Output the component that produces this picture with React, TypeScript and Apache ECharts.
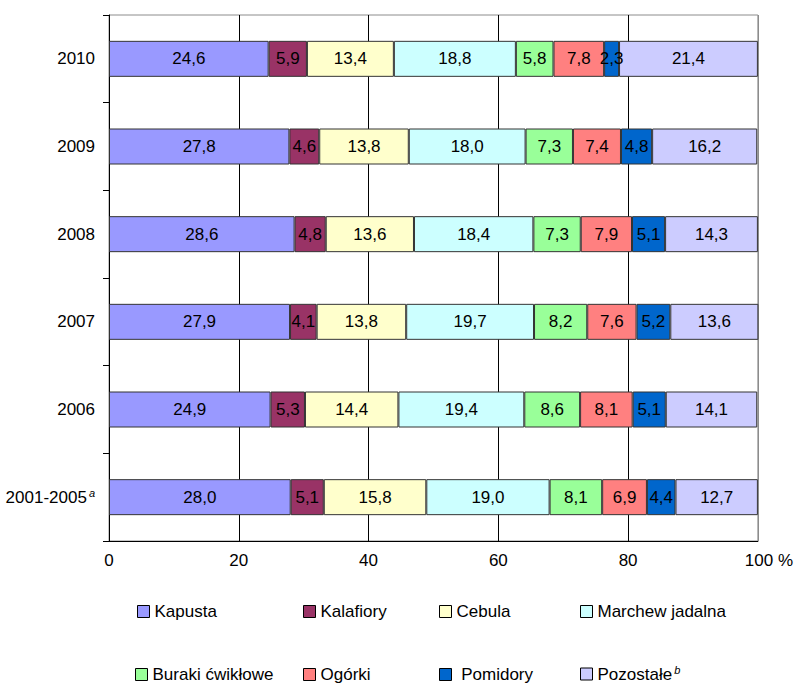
import React, { useEffect, useRef } from "react";
import * as echarts from "echarts";

const categories = ["2001-2005", "2006", "2007", "2008", "2009", "2010"];
const seriesNames = ["Kapusta", "Kalafiory", "Cebula", "Marchew jadalna", "Buraki ćwikłowe", "Ogórki", "Pomidory", "Pozostałe"];
const kapusta = [28.0, 24.9, 27.9, 28.6, 27.8, 24.6];
const kalafiory = [5.1, 5.3, 4.1, 4.8, 4.6, 5.9];
const cebula = [15.8, 14.4, 13.8, 13.6, 13.8, 13.4];
const marchew = [19.0, 19.4, 19.7, 18.4, 18.0, 18.8];
const buraki = [8.1, 8.6, 8.2, 7.3, 7.3, 5.8];
const ogorki = [6.9, 8.1, 7.6, 7.9, 7.4, 7.8];
const pomidory = [4.4, 5.1, 5.2, 5.1, 4.8, 2.3];
const pozostale = [12.7, 14.1, 13.6, 14.3, 16.2, 21.4];

const allValues = [kapusta, kalafiory, cebula, marchew, buraki, ogorki, pomidory, pozostale];
const colors = ["#9999FF", "#993366", "#FFFFCC", "#CCFFFF", "#99FF99", "#FF8080", "#0066CC", "#CCCCFF"];

const FONT = "'Liberation Sans', Arial, sans-serif";
const FS = 17;

export default function App() {
  const ref = useRef<HTMLDivElement>(null);
  useEffect(() => {
    if (!ref.current) return;
    const chart = echarts.init(ref.current, null, { renderer: "svg" });
    const legendPos = [
      [137, 603], [303, 603], [439, 603], [580, 603],
      [135, 666], [303, 666], [439, 666], [580, 664],
    ];
    const supStyle = {
      fontSize: 11, color: "#000", fontFamily: FONT, fontStyle: "italic",
      lineHeight: 11, verticalAlign: "top", padding: [0, 0, 0, 2],
    };
    const nStyle = { fontSize: FS, color: "#000", fontFamily: FONT, lineHeight: 20 };
    const option: any = {
      animation: false,
      textStyle: { fontFamily: FONT },
      grid: {
        left: 109, right: 36, top: 15, bottom: 145,
        show: true, borderColor: "#8c8c8c", borderWidth: 1, backgroundColor: "transparent",
      },
      xAxis: {
        type: "value", min: 0, max: 100, interval: 20,
        axisLine: { show: true, lineStyle: { color: "#000", width: 1 } },
        axisTick: { show: false },
        splitLine: { show: true, lineStyle: { color: ["#000", "#000", "#000", "#000", "#000", "#8c8c8c"], width: 1 } },
        axisLabel: {
          margin: 11, color: "#000", fontSize: FS, fontFamily: FONT,
          formatter: (v: number) => (v === 100 ? "{s|}{n|100 %}" : String(v)),
          rich: { s: { width: 22 }, n: { fontSize: FS, color: "#000", fontFamily: FONT } },
        },
      },
      yAxis: {
        type: "category", data: categories,
        axisLine: { show: true, lineStyle: { color: "#000", width: 1 } },
        axisTick: { show: true, length: 6, lineStyle: { color: "#000" } },
        axisLabel: {
          margin: 14, color: "#000", fontSize: FS, fontFamily: FONT,
          formatter: (v: string) => (v === "2001-2005" ? "{n|" + v + "}{sup|a}" : "{n|" + v + "}"),
          rich: { n: nStyle, sup: supStyle },
        },
      },
      legend: seriesNames.map((name, i) => ({
        data: [name],
        left: legendPos[i][0], top: legendPos[i][1], padding: 0,
        itemWidth: 12, itemHeight: 12, icon: "rect",
        itemStyle: { borderColor: "#000", borderWidth: 1 },
        selectedMode: false,
        textStyle: {
          fontSize: FS, color: "#000", fontFamily: FONT,
          rich: { sup: supStyle, n: nStyle },
        },
        formatter: (n: string) => (n === "Pozostałe" ? "{n|Pozostałe}{sup|b}" : n === "Pomidory" ? "{n| Pomidory}" : "{n|" + n + "}"),
      })),
      series: seriesNames.map((name, i) => ({
        name, type: "bar", stack: "total", data: allValues[i], barWidth: 36,
        itemStyle: { color: colors[i], borderColor: "#333", borderWidth: 1 },
        label: {
          show: true, position: "inside", color: "#000", fontSize: FS, fontFamily: FONT,
          formatter: (p: any) => Number(p.value).toFixed(1).replace(".", ","),
        },
      })),
    };
    chart.setOption(option);
    return () => chart.dispose();
  }, []);
  return <div ref={ref} style={{ position: "absolute", left: 0, top: 0, width: 796, height: 686 }} />;
}
